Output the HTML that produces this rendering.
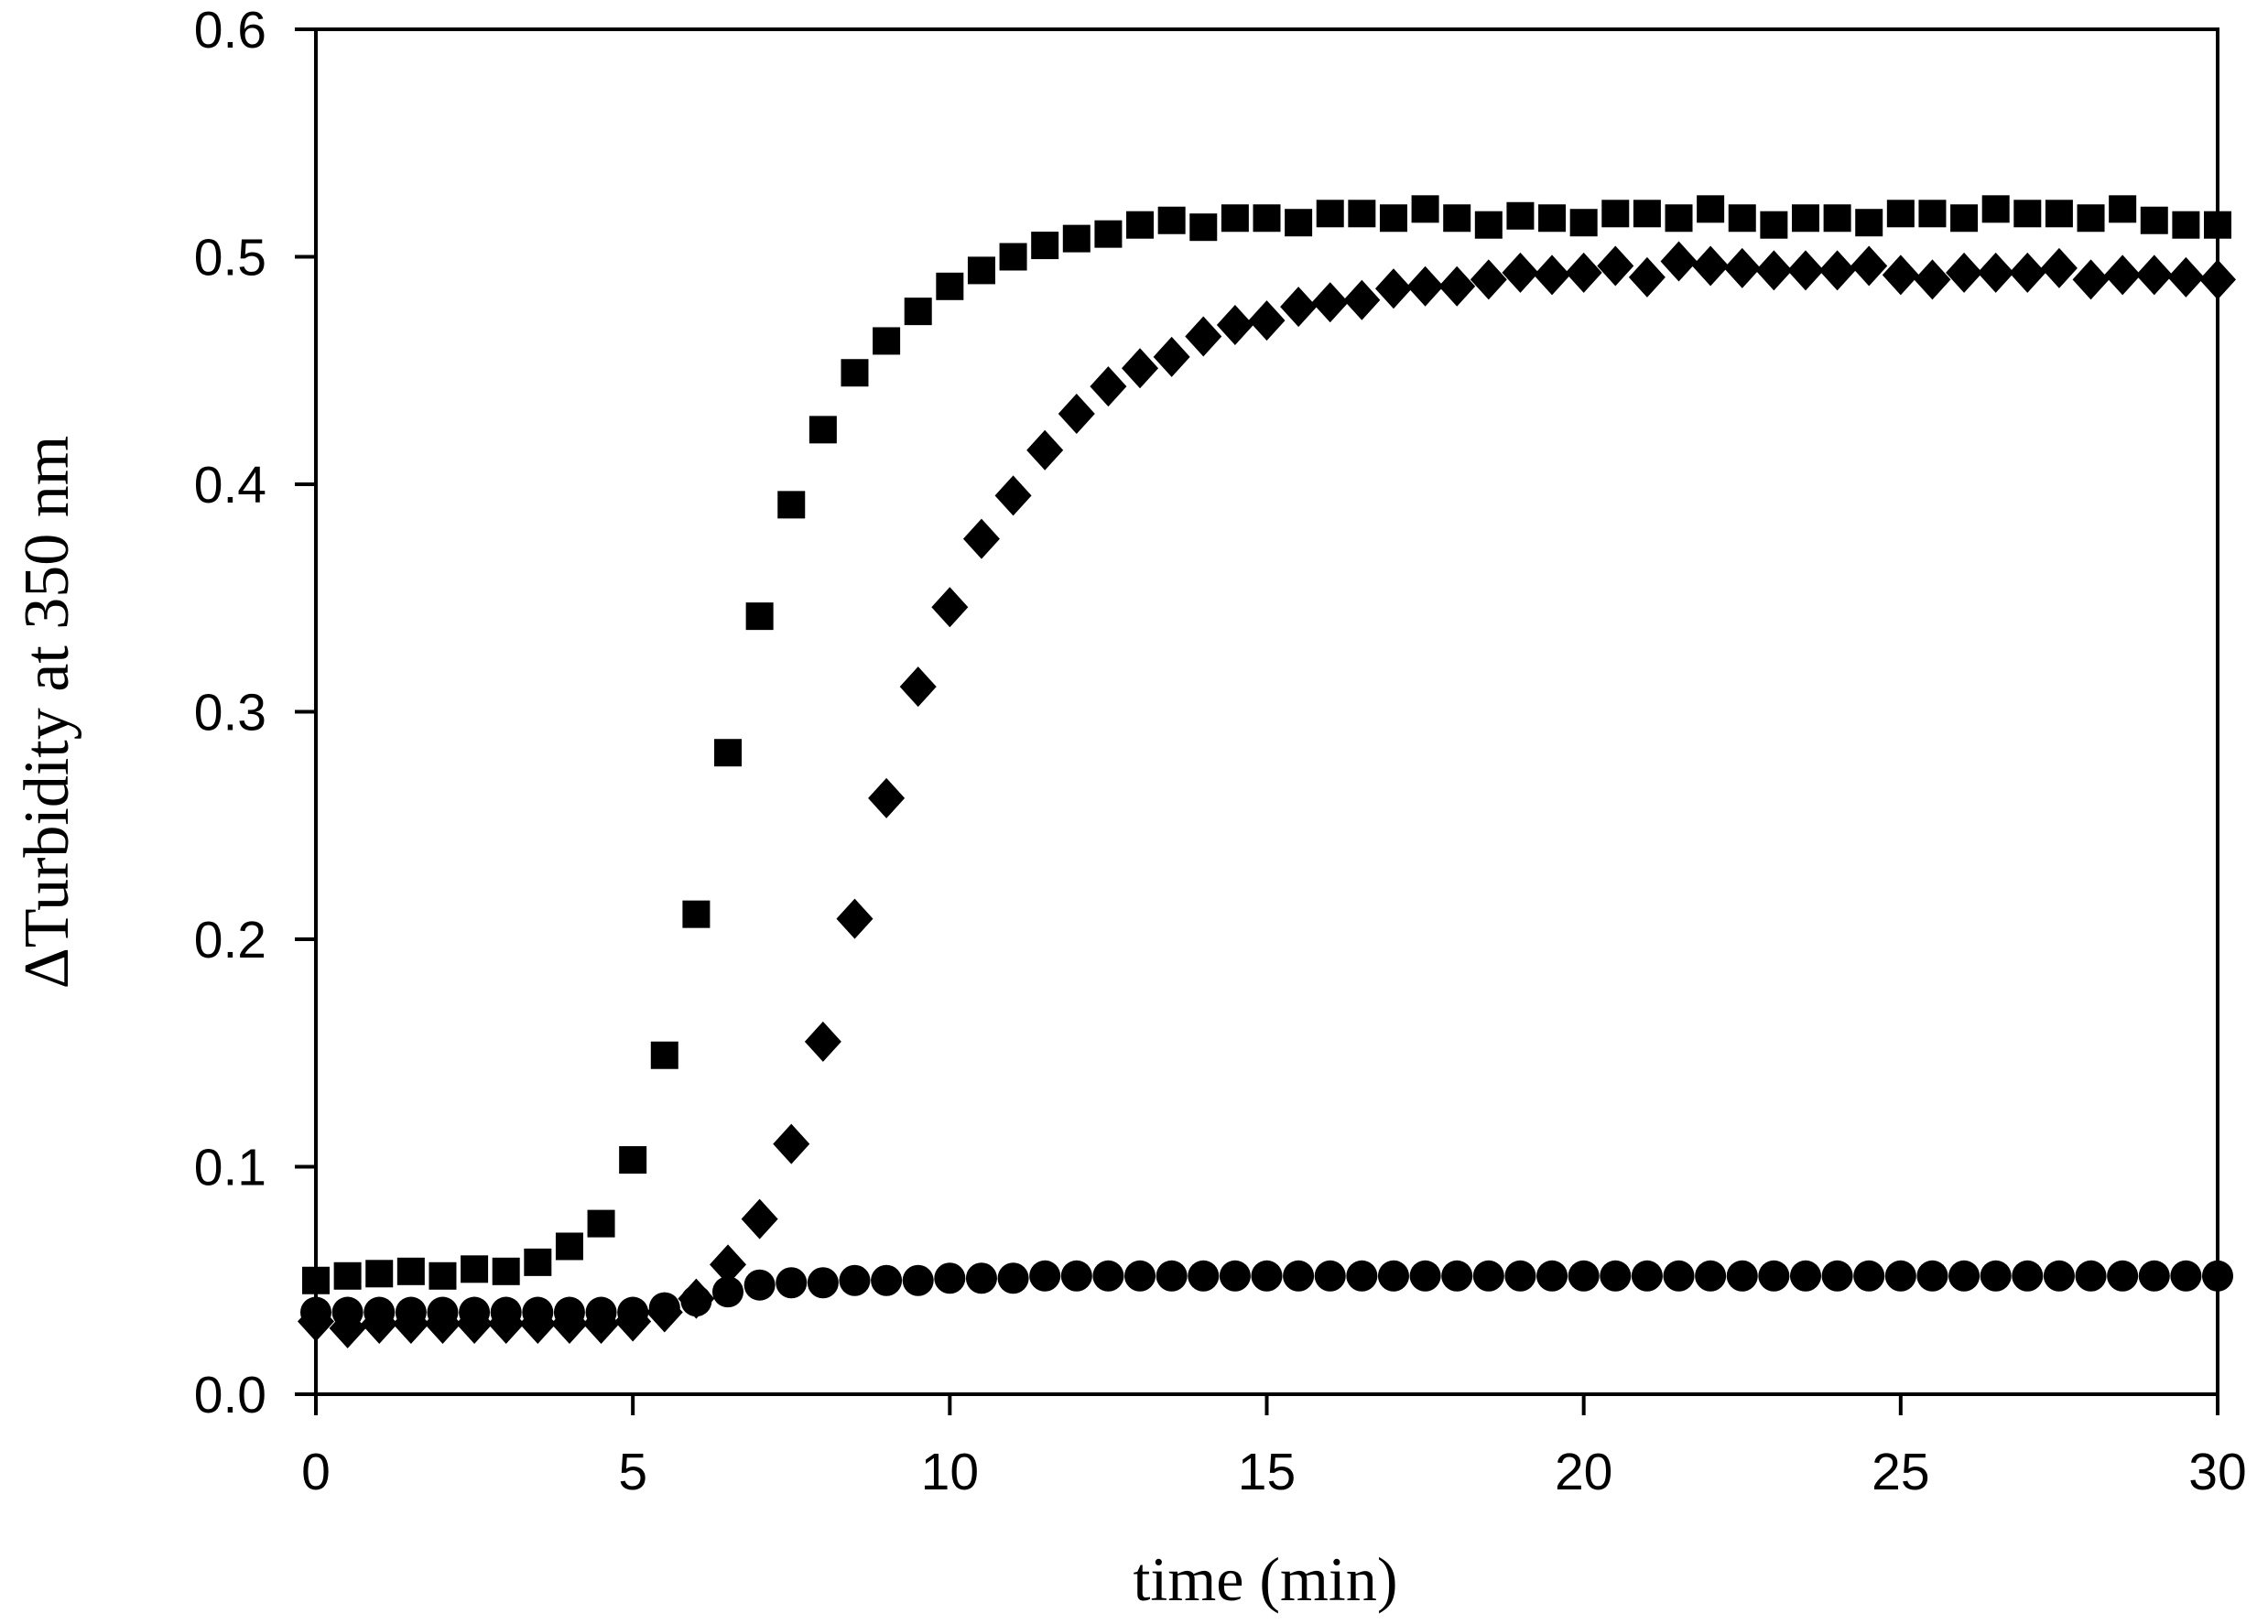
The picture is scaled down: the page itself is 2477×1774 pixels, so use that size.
<!DOCTYPE html>
<html><head><meta charset="utf-8"><style>body{margin:0;background:#fff}svg{display:block}</style></head>
<body>
<svg id="chart" width="2477" height="1774" xmlns="http://www.w3.org/2000/svg">
<g id="axes"></g>
<g id="marks"></g>
<text x="1382" y="1748" font-family="Liberation Serif, serif" font-size="68" text-anchor="middle">time (min)</text>
<text transform="translate(74,778) rotate(-90)" font-family="Liberation Serif, serif" font-size="70" text-anchor="middle">ΔTurbidity at 350 nm</text>
</svg>
<script>
const xTicks = [0,5,10,15,20,25,30];
const yTicks = [0,0.1,0.2,0.3,0.4,0.5,0.6];
const yTickLabels = ["0.0","0.1","0.2","0.3","0.4","0.5","0.6"];
const times = [];
for (let i = 0; i <= 60; i++) times.push(i * 0.5);
const squareSeries = [0.050,0.052,0.053,0.054,0.052,0.055,0.054,0.058,0.065,0.075,0.103,0.149,0.211,0.282,0.342,0.391,0.424,0.449,0.463,0.476,0.487,0.494,0.500,0.505,0.508,0.510,0.514,0.516,0.513,0.517,0.517,0.515,0.519,0.519,0.517,0.521,0.517,0.514,0.518,0.517,0.515,0.519,0.519,0.517,0.521,0.517,0.514,0.517,0.517,0.515,0.519,0.519,0.517,0.521,0.519,0.519,0.517,0.521,0.516,0.514,0.514];
const diamondSeries = [0.032,0.029,0.031,0.031,0.031,0.031,0.031,0.031,0.031,0.031,0.032,0.036,0.042,0.057,0.077,0.110,0.155,0.209,0.262,0.311,0.346,0.376,0.395,0.415,0.431,0.443,0.451,0.456,0.465,0.470,0.472,0.478,0.480,0.481,0.486,0.487,0.487,0.490,0.493,0.492,0.493,0.496,0.491,0.498,0.496,0.495,0.494,0.494,0.494,0.496,0.492,0.490,0.493,0.493,0.493,0.495,0.490,0.492,0.492,0.491,0.490];
const circleSeries = [0.036,0.036,0.036,0.036,0.036,0.036,0.036,0.036,0.036,0.036,0.036,0.038,0.041,0.045,0.048,0.049,0.049,0.050,0.050,0.050,0.051,0.051,0.051,0.052,0.052,0.052,0.052,0.052,0.052,0.052,0.052,0.052,0.052,0.052,0.052,0.052,0.052,0.052,0.052,0.052,0.052,0.052,0.052,0.052,0.052,0.052,0.052,0.052,0.052,0.052,0.052,0.052,0.052,0.052,0.052,0.052,0.052,0.052,0.052,0.052,0.052];

const L=345,R=2422,T=32,B=1523;
const xs = v => L + (v-0)/30*(R-L);
const ys = v => B - v/0.6*(B-T);
const NS="http://www.w3.org/2000/svg";
function mk(tag, parent, attrs){const e=document.createElementNS(NS,tag);for(const k in attrs)e.setAttribute(k,attrs[k]);parent.appendChild(e);return e;}
const ax=document.getElementById('axes'), mg=document.getElementById('marks');
const frame=mk('rect',ax,{x:L,y:T,width:R-L,height:B-T,fill:'none',stroke:'#000','stroke-width':4});


xTicks.forEach(t=>{
  const ln=mk('line',ax,{x1:xs(t),x2:xs(t),y1:B,y2:B+23,stroke:'#000','stroke-width':4});
  
  
  const tx=mk('text',ax,{x:xs(t),y:1627,'font-family':'Liberation Sans, sans-serif','font-size':57,'text-anchor':'middle'});
  tx.textContent=t;
  
  
});
yTicks.forEach((t,i)=>{
  const ln=mk('line',ax,{x1:L-23,x2:L,y1:ys(t),y2:ys(t),stroke:'#000','stroke-width':4});
  
  
  const tx=mk('text',ax,{x:291,y:ys(t)+20,'font-family':'Liberation Sans, sans-serif','font-size':57,'text-anchor':'end'});
  tx.textContent=yTickLabels[i];
  
  
});
circleSeries.forEach((v,i)=>{
  const c=mk('circle',mg,{cx:xs(times[i]),cy:ys(v),r:17,fill:'#000'});
  
  
});
diamondSeries.forEach((v,i)=>{
  const x=xs(times[i]),y=ys(v);
  const p=mk('polygon',mg,{points:`${x},${y-22} ${x+20},${y} ${x},${y+22} ${x-20},${y}`,fill:'#000'});
  
  
});
squareSeries.forEach((v,i)=>{
  const s=mk('rect',mg,{x:xs(times[i])-15,y:ys(v)-15,width:30,height:30,fill:'#000'});
  
  
});
</script>
</body></html>
